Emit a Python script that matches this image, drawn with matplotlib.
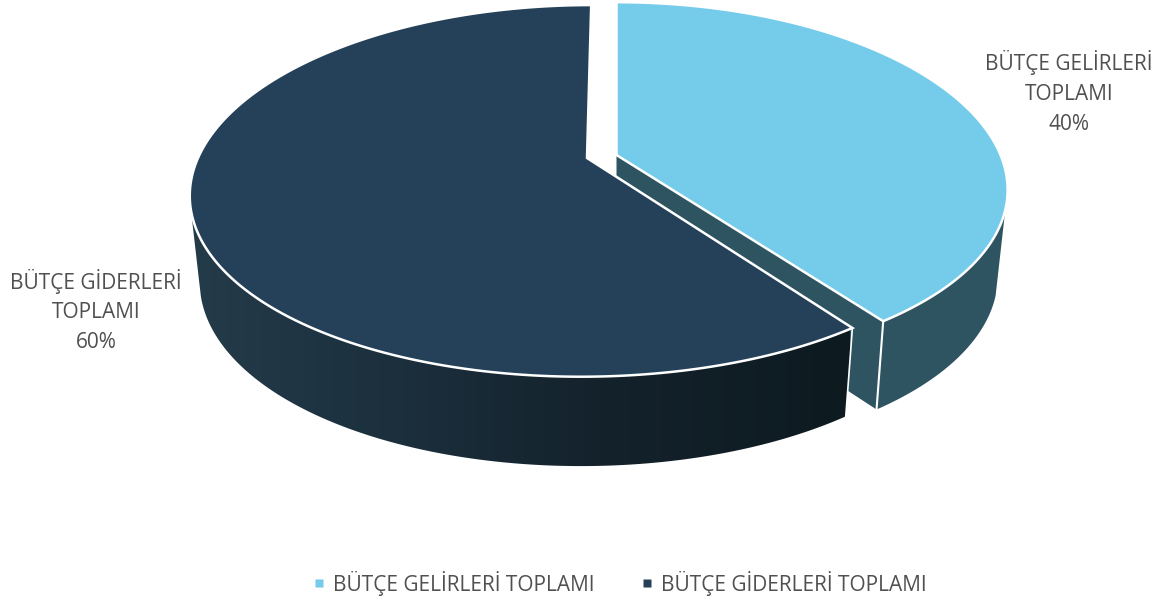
"""Exploded 3D-look pie: budget revenue vs expenditure, drawn in pixel coordinates."""
import matplotlib

matplotlib.use("Agg")

import matplotlib.pyplot as plt
import numpy as np
from matplotlib.colors import LinearSegmentedColormap
from matplotlib.lines import Line2D
from matplotlib.patches import Polygon

labels = ["BÜTÇE GELİRLERİ TOPLAMI", "BÜTÇE GİDERLERİ TOPLAMI"]
shares = [40, 60]
top_colors = ["#75CBEA", "#244159"]
TEXT = "#505050"
LIGHT_WALL = "#2F5461"
DEPTH = 85
BOTTOM_SCALE_X = 0.975
BOTTOM_SCALE_Y = 1.02

# perspective setup per slice: apex x, apex y, half width, half height, kx, ky, shear
views = [
    dict(cx=616.5, cy=155, b=384, a=178, kx=0.19, ky=0.165, c=0),
    dict(cx=587, cy=158, b=389, a=180, kx=0.19, ky=0.177, c=5),
]

plt.rcParams["font.family"] = ["Open Sans", "DejaVu Sans"]


def rim(theta, v, bottom=False):
    """Screen points of the pie rim at angle theta (clockwise from 12 o'clock)."""
    u_, v_ = np.sin(theta), np.cos(theta)
    x = (v["b"] * u_ + v["c"] * v_) / (1 + v["kx"] * v_)
    y = v["a"] * v_ / (1 + v["ky"] * v_)
    if bottom:
        return v["cx"] + BOTTOM_SCALE_X * x, v["cy"] + DEPTH - BOTTOM_SCALE_Y * y
    return v["cx"] + x, v["cy"] - y


def wall_xy(theta, v):
    xt, yt = rim(theta, v)
    xb, yb = rim(theta, v, bottom=True)
    return np.column_stack([np.r_[xt, xb[::-1]], np.r_[yt, yb[::-1]]])


fig = plt.figure(figsize=(11.64, 6.01), dpi=100)
ax = fig.add_axes([0, 0, 1, 1])

fractions = np.cumsum([0] + shares) / sum(shares) * 2 * np.pi
split = fractions[1]
light, dark = views

# light slice: side wall from its silhouette angle, then the cut face seen through the gap
theta = np.linspace(np.radians(107), split, 200)
ax.add_patch(Polygon(wall_xy(theta, light), fc=LIGHT_WALL, ec="none", zorder=1))
xr, yr = rim(np.array([split]), light)
xb, yb = rim(np.array([split]), light, bottom=True)
face = [(light["cx"], light["cy"]), (xr[0], yr[0]), (xb[0], yb[0]),
        (light["cx"], light["cy"] + DEPTH)]
ax.add_patch(Polygon(face, fc=LIGHT_WALL, ec="none", zorder=1))
ax.plot([xr[0], xb[0]], [yr[0], yb[0]], color="white", lw=1.5, zorder=2)

# light slice top
theta = np.linspace(fractions[0], split, 200)
xt, yt = rim(theta, light)
ax.add_patch(Polygon(np.column_stack([np.r_[light["cx"], xt], np.r_[light["cy"], yt]]),
                     fc=top_colors[0], ec="white", lw=1.8, joinstyle="miter", zorder=3))

# dark slice: side wall with left-to-right gradient
theta = np.linspace(split, np.radians(254), 300)
wall = Polygon(wall_xy(theta, dark), fc="none", ec="none", zorder=4)
ax.add_patch(wall)
cmap = LinearSegmentedColormap.from_list(
    "wall", [(0, "#243B4A"), (0.32, "#1B2F3C"), (0.62, "#14222C"), (1, "#0D1A20")])
grad = ax.imshow(np.linspace(0, 1, 256)[None, :], extent=(191, 850, 470, 180),
                 cmap=cmap, aspect="auto", interpolation="bilinear", zorder=4)
grad.set_clip_path(wall)
xr, yr = rim(np.array([split]), dark)
xb, yb = rim(np.array([split]), dark, bottom=True)
ax.plot([xr[0], xb[0]], [yr[0], yb[0]], color="white", lw=1.2, zorder=5)

# dark slice top
theta = np.linspace(split, fractions[2], 400)
xt, yt = rim(theta, dark)
ax.add_patch(Polygon(np.column_stack([np.r_[dark["cx"], xt], np.r_[dark["cy"], yt]]),
                     fc=top_colors[1], ec="white", lw=1.8, joinstyle="miter", zorder=6))

# data labels
ax.text(1069, 92.5, "BÜTÇE GELİRLERİ\nTOPLAMI\n%d%%" % shares[0], ha="center", va="center",
        color=TEXT, fontsize=15, linespacing=1.55, zorder=7)
ax.text(96, 311, "BÜTÇE GİDERLERİ\nTOPLAMI\n%d%%" % shares[1], ha="center", va="center",
        color=TEXT, fontsize=15, linespacing=1.55, zorder=7)

handles = [Line2D([], [], ls="none", marker="s", ms=5.8, mfc=c, mec="none") for c in top_colors]
ax.legend(handles, labels, loc="center", bbox_to_anchor=(620.5 / 1164, 1 - 583 / 601),
          ncols=2, frameon=False, fontsize=15, labelcolor=TEXT, handlelength=0.5,
          handletextpad=0.42, columnspacing=2.25, borderpad=0, borderaxespad=0)

ax.set_xlim(0, 1164)
ax.set_ylim(601, 0)
ax.axis("off")
fig.savefig("out.png", dpi=100)
